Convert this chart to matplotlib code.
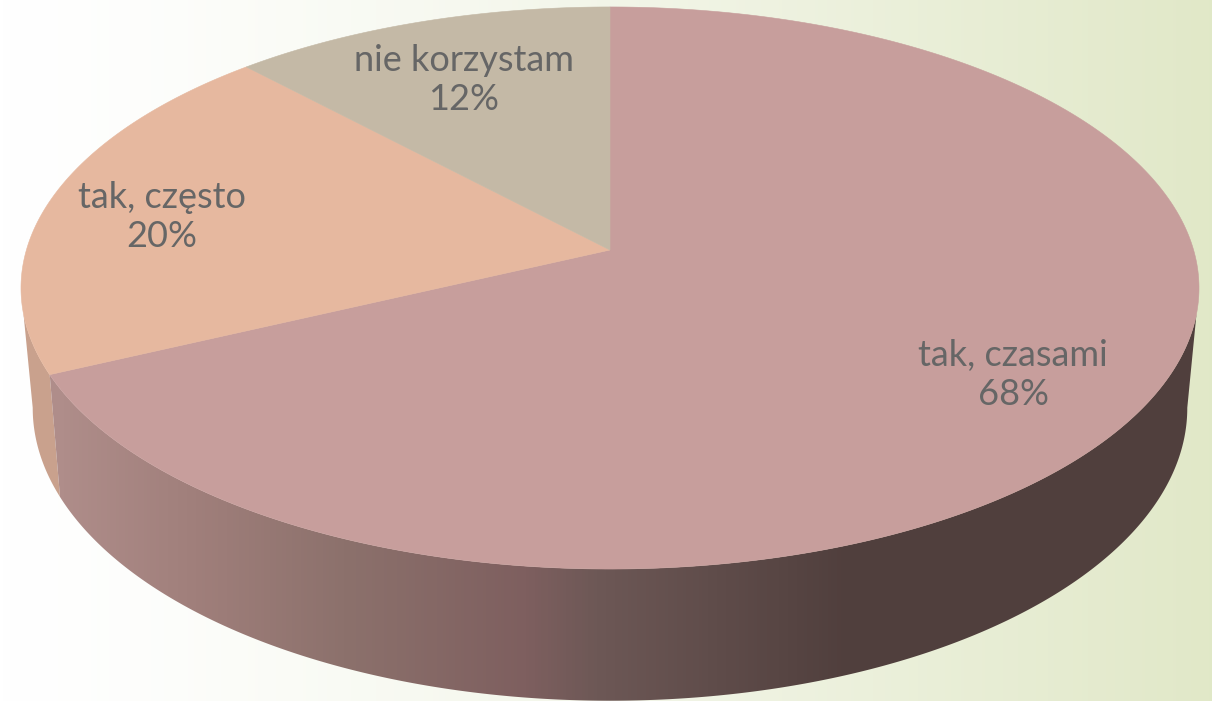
import numpy as np
import matplotlib
matplotlib.use("Agg")
import matplotlib.pyplot as plt
from matplotlib.colors import LinearSegmentedColormap

plt.rcParams['font.family'] = ['Lato', 'DejaVu Sans']

# clockwise from 12 o'clock
labels = ["tak, czasami", "tak, często", "nie korzystam"]
values = [68, 20, 12]
top_colors = ["#C79E9C", "#E6B89F", "#C4B9A6"]
side_color = "#C9A18D"
label_pos = [(1013, 375), (162, 217), (464, 80)]

W, H = 1212, 701
CX = 610


# perspective projection of the unit circle, near edge is bigger
def rim(theta, cy, f, g, p):
    u = np.sin(theta)
    v = np.cos(theta)
    w = 1 + p * v
    return np.column_stack([CX + f * u / w, cy - g * v / w])


def top_rim(theta):
    return rim(theta, 250, 583.6, 275.9, 0.1352)


def low_rim(theta):
    return rim(theta, 367, 571.6, 287, 0.14)


def wall_poly(top_from, low_from, to):
    # top_from/low_from differ a little so the closing line is the silhouette
    a = top_rim(np.linspace(top_from, to, 400))
    b = low_rim(np.linspace(low_from, to, 400))
    return np.vstack([a, b[::-1]])


fig = plt.figure(figsize=(W / 100, H / 100), dpi=100)
ax = fig.add_axes([0, 0, 1, 1])

# background, white to pale green
xx = np.linspace(0, 1, 400)[None, :]
t = (xx ** 1.3)[..., None]
bg = np.array([1.0, 1.0, 1.0]) * (1 - t) + np.array([0.882, 0.91, 0.784]) * t
ax.imshow(bg, extent=[0, W, H, 0], aspect='auto', zorder=0)

# side wall of the big slice is shaded by screen x
shade = LinearSegmentedColormap.from_list("shade", [
    (0.0, "#AF8D8A"), (0.17, "#A07F7B"), (0.36, "#8C716C"), (0.59, "#7E5F5F"),
    (0.68, "#6D5856"), (1.0, "#503F3D")])

edges = np.cumsum([0] + values) / sum(values) * 2 * np.pi

wall = wall_poly(np.radians(103), np.radians(98), edges[1])
patch = ax.fill(wall[:, 0], wall[:, 1], facecolor='none', lw=0, zorder=1)[0]
grad = np.clip((np.linspace(0, W, W) - 60) / (850 - 60), 0, 1)[None, :]
im = ax.imshow(grad, cmap=shade, vmin=0, vmax=1, extent=[0, W, H, 0],
               aspect='auto', zorder=1.1)
im.set_clip_path(patch)

wall = wall_poly(np.radians(257), np.radians(262), edges[1])
ax.fill(wall[:, 0], wall[:, 1], color=side_color, lw=0, zorder=1)

# top face
for i in range(len(values)):
    th = np.linspace(edges[i], edges[i + 1], 400)
    pts = np.vstack([[[CX, 250]], top_rim(th)])
    ax.fill(pts[:, 0], pts[:, 1], color=top_colors[i], lw=0.4, zorder=2)

for i in range(len(values)):
    ax.text(label_pos[i][0], label_pos[i][1], "%s\n%d%%" % (labels[i], values[i]),
            ha='center', va='center', fontsize=26, color="#666666",
            linespacing=1.2, zorder=3)

ax.set_xlim(0, W)
ax.set_ylim(H, 0)
ax.axis('off')
fig.savefig("out.png", dpi=100)
